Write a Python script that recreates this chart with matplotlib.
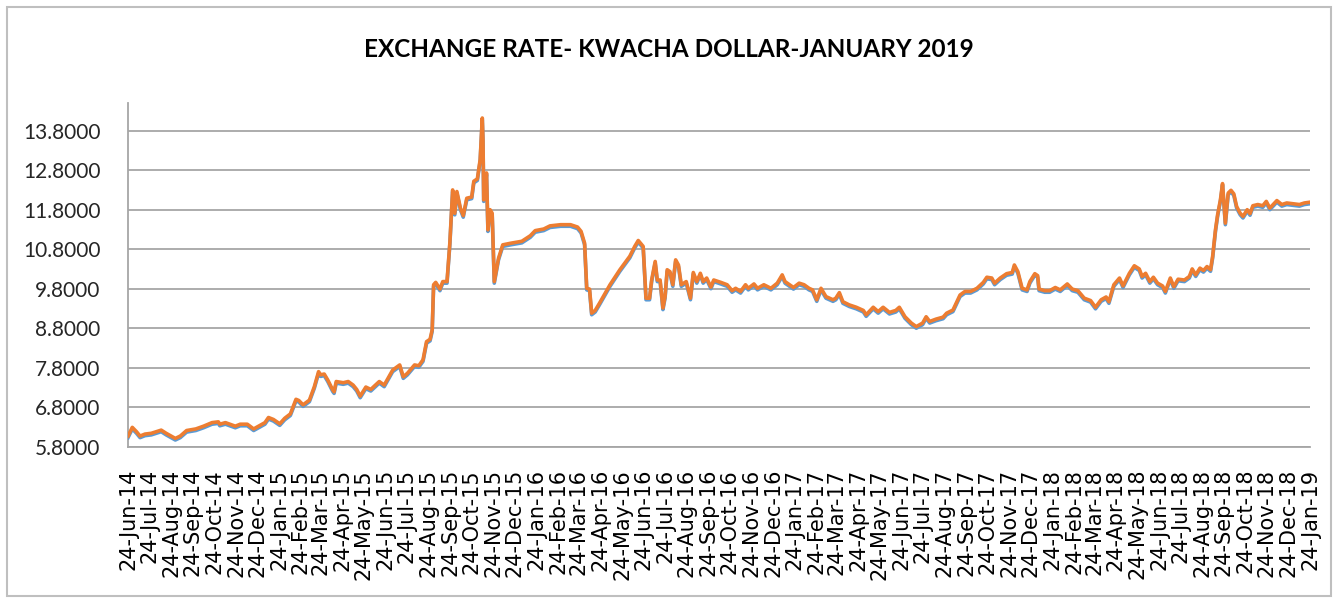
import matplotlib
matplotlib.use("Agg")
import matplotlib.pyplot as plt
import matplotlib.dates as mdates
import matplotlib.ticker as mticker
import pandas as pd
from matplotlib.patches import Rectangle

title = "EXCHANGE RATE- KWACHA DOLLAR-JANUARY 2019"

dates = [
    # 2014
    "2014-06-24", "2014-06-30", "2014-07-06", "2014-07-11", "2014-07-18", "2014-07-27",
    "2014-08-10", "2014-08-17", "2014-08-30", "2014-09-06", "2014-09-15", "2014-09-28",
    "2014-10-09", "2014-10-21", "2014-10-30", "2014-11-01", "2014-11-09", "2014-11-23",
    "2014-11-30", "2014-12-10", "2014-12-19", "2014-12-26",
    # 2015
    "2015-01-04", "2015-01-09", "2015-01-16", "2015-01-25", "2015-02-01", "2015-02-09",
    "2015-02-17", "2015-02-21", "2015-02-27", "2015-03-08", "2015-03-15", "2015-03-21",
    "2015-03-24", "2015-03-29", "2015-04-03", "2015-04-10", "2015-04-12", "2015-04-15",
    "2015-04-25", "2015-05-02", "2015-05-09", "2015-05-14", "2015-05-19", "2015-05-27",
    "2015-06-03", "2015-06-15", "2015-06-22", "2015-07-04", "2015-07-14", "2015-07-19",
    "2015-07-25", "2015-08-04", "2015-08-10", "2015-08-16", "2015-08-21", "2015-08-26",
    "2015-08-29", "2015-08-31", "2015-09-03", "2015-09-09", "2015-09-13", "2015-09-19",
    "2015-09-23", "2015-09-27", "2015-09-30", "2015-10-03", "2015-10-08", "2015-10-12",
    "2015-10-17", "2015-10-24", "2015-10-27", "2015-11-01", "2015-11-05", "2015-11-08",
    "2015-11-09", "2015-11-10", "2015-11-14", "2015-11-16", "2015-11-19", "2015-11-22",
    "2015-11-25", "2015-12-01", "2015-12-07", "2015-12-18",
    # 2016
    "2016-01-03", "2016-01-15", "2016-01-22", "2016-02-03", "2016-02-12", "2016-02-27",
    "2016-03-12", "2016-03-22", "2016-03-27", "2016-04-01", "2016-04-04", "2016-04-08",
    "2016-04-11", "2016-04-16", "2016-04-22", "2016-05-07", "2016-05-21", "2016-06-04",
    "2016-06-11", "2016-06-16", "2016-06-23", "2016-06-27", "2016-07-02", "2016-07-05",
    "2016-07-10", "2016-07-13", "2016-07-17", "2016-07-21", "2016-07-24", "2016-07-27",
    "2016-07-31", "2016-08-04", "2016-08-08", "2016-08-12", "2016-08-16", "2016-08-23",
    "2016-08-29", "2016-09-02", "2016-09-07", "2016-09-12", "2016-09-16", "2016-09-21",
    "2016-09-27", "2016-10-01", "2016-10-11", "2016-10-20", "2016-10-27", "2016-11-01",
    "2016-11-08", "2016-11-15", "2016-11-19", "2016-11-27", "2016-12-02", "2016-12-11",
    "2016-12-21", "2016-12-30",
    # 2017
    "2017-01-06", "2017-01-10", "2017-01-22", "2017-01-30", "2017-02-06", "2017-02-13",
    "2017-02-18", "2017-02-24", "2017-03-02", "2017-03-09", "2017-03-19", "2017-03-23",
    "2017-03-28", "2017-04-02", "2017-04-11", "2017-04-21", "2017-05-01", "2017-05-05",
    "2017-05-15", "2017-05-22", "2017-05-29", "2017-06-07", "2017-06-16", "2017-06-21",
    "2017-06-29", "2017-07-08", "2017-07-15", "2017-07-24", "2017-07-29", "2017-08-03",
    "2017-08-12", "2017-08-22", "2017-08-27", "2017-09-05", "2017-09-15", "2017-09-22",
    "2017-09-30", "2017-10-09", "2017-10-18", "2017-10-23", "2017-10-30", "2017-11-03",
    "2017-11-11", "2017-11-20", "2017-11-28", "2017-12-01", "2017-12-06", "2017-12-12",
    "2017-12-19", "2017-12-23", "2017-12-30",
    # 2018
    "2018-01-03", "2018-01-05", "2018-01-13", "2018-01-20", "2018-01-28", "2018-02-04",
    "2018-02-14", "2018-02-21", "2018-03-01", "2018-03-10", "2018-03-19", "2018-03-26",
    "2018-04-03", "2018-04-10", "2018-04-14", "2018-04-21", "2018-04-29", "2018-05-04",
    "2018-05-13", "2018-05-20", "2018-05-27", "2018-05-31", "2018-06-05", "2018-06-11",
    "2018-06-16", "2018-06-22", "2018-06-29", "2018-07-03", "2018-07-10", "2018-07-15",
    "2018-07-21", "2018-07-30", "2018-08-06", "2018-08-10", "2018-08-15", "2018-08-21",
    "2018-08-26", "2018-08-31", "2018-09-05", "2018-09-08", "2018-09-12", "2018-09-15",
    "2018-09-19", "2018-09-22", "2018-09-26", "2018-09-30", "2018-10-04", "2018-10-08",
    "2018-10-12", "2018-10-17", "2018-10-21", "2018-10-27", "2018-10-31", "2018-11-04",
    "2018-11-11", "2018-11-18", "2018-11-23", "2018-11-28", "2018-12-08", "2018-12-15",
    "2018-12-22", "2018-12-31",
    # 2019
    "2019-01-09", "2019-01-16", "2019-01-24",
]

sell_rate = [
    # 2014
    6.07, 6.29, 6.18, 6.07, 6.12, 6.14,
    6.22, 6.14, 6.01, 6.07, 6.21, 6.25,
    6.32, 6.41, 6.43, 6.37, 6.41, 6.32,
    6.37, 6.37, 6.25, 6.32,
    # 2015
    6.41, 6.54, 6.49, 6.38, 6.52, 6.63,
    7.00, 6.97, 6.86, 6.98, 7.32, 7.70,
    7.62, 7.64, 7.49, 7.24, 7.19, 7.45,
    7.42, 7.45, 7.36, 7.25, 7.08, 7.31,
    7.25, 7.45, 7.36, 7.74, 7.87, 7.57,
    7.66, 7.87, 7.85, 8.00, 8.46, 8.52,
    8.76, 9.90, 9.96, 9.79, 9.98, 9.98,
    10.95, 12.30, 11.71, 12.26, 11.84, 11.65,
    12.09, 12.12, 12.52, 12.58, 13.07, 14.12,
    13.57, 12.05, 12.73, 11.29, 11.80, 11.71,
    9.98, 10.57, 10.91, 10.95,
    # 2016
    11.00, 11.14, 11.27, 11.31, 11.39, 11.42,
    11.42, 11.36, 11.25, 10.95, 9.81, 9.79,
    9.18, 9.25, 9.43, 9.90, 10.28, 10.62,
    10.87, 11.02, 10.87, 9.56, 9.56, 10.02,
    10.49, 10.02, 10.02, 9.31, 9.60, 10.28,
    10.23, 9.90, 10.53, 10.40, 9.90, 9.98,
    9.56, 10.21, 9.98, 10.19, 9.98, 10.07,
    9.84, 10.02, 9.96, 9.90, 9.75, 9.81,
    9.73, 9.90, 9.81, 9.92, 9.81, 9.90,
    9.81, 9.94,
    # 2017
    10.15, 9.98, 9.83, 9.94, 9.90, 9.81,
    9.77, 9.52, 9.81, 9.60, 9.52, 9.56,
    9.70, 9.47, 9.39, 9.33, 9.25, 9.14,
    9.33, 9.22, 9.33, 9.20, 9.25, 9.33,
    9.09, 8.93, 8.84, 8.93, 9.09, 8.97,
    9.03, 9.08, 9.18, 9.26, 9.64, 9.73,
    9.73, 9.81, 9.96, 10.09, 10.07, 9.94,
    10.07, 10.18, 10.21, 10.40, 10.23, 9.81,
    9.77, 9.98, 10.18,
    # 2018
    10.13, 9.79, 9.75, 9.75, 9.83, 9.77,
    9.92, 9.79, 9.75, 9.56, 9.50, 9.33,
    9.52, 9.59, 9.47, 9.90, 10.07, 9.87,
    10.19, 10.38, 10.30, 10.11, 10.19, 9.98,
    10.09, 9.94, 9.87, 9.73, 10.07, 9.85,
    10.04, 10.02, 10.11, 10.30, 10.15, 10.32,
    10.26, 10.36, 10.28, 10.62, 11.29, 11.67,
    12.05, 12.46, 11.46, 12.22, 12.29, 12.20,
    11.88, 11.71, 11.63, 11.80, 11.70, 11.90,
    11.93, 11.90, 12.01, 11.84, 12.03, 11.93,
    11.97, 11.95,
    # 2019
    11.93, 11.97, 11.99,
]

buy_rate = [
    # 2014
    6.03, 6.25, 6.14, 6.03, 6.08, 6.10,
    6.18, 6.10, 5.97, 6.03, 6.17, 6.21,
    6.28, 6.37, 6.39, 6.33, 6.37, 6.28,
    6.33, 6.33, 6.21, 6.28,
    # 2015
    6.37, 6.50, 6.45, 6.34, 6.48, 6.59,
    6.96, 6.93, 6.82, 6.94, 7.28, 7.66,
    7.58, 7.60, 7.45, 7.20, 7.15, 7.41,
    7.38, 7.41, 7.32, 7.21, 7.04, 7.27,
    7.21, 7.41, 7.32, 7.70, 7.83, 7.53,
    7.62, 7.83, 7.81, 7.96, 8.42, 8.48,
    8.72, 9.86, 9.92, 9.75, 9.94, 9.94,
    10.91, 12.26, 11.67, 12.22, 11.80, 11.61,
    12.05, 12.08, 12.48, 12.54, 13.03, 14.08,
    13.53, 12.01, 12.69, 11.25, 11.76, 11.67,
    9.94, 10.53, 10.87, 10.91,
    # 2016
    10.96, 11.10, 11.23, 11.27, 11.35, 11.38,
    11.38, 11.32, 11.21, 10.91, 9.77, 9.75,
    9.14, 9.21, 9.39, 9.86, 10.24, 10.58,
    10.83, 10.98, 10.83, 9.52, 9.52, 9.98,
    10.45, 9.98, 9.98, 9.27, 9.56, 10.24,
    10.19, 9.86, 10.49, 10.36, 9.86, 9.94,
    9.52, 10.17, 9.94, 10.15, 9.94, 10.03,
    9.80, 9.98, 9.92, 9.86, 9.71, 9.77,
    9.69, 9.86, 9.77, 9.88, 9.77, 9.86,
    9.77, 9.90,
    # 2017
    10.11, 9.94, 9.79, 9.90, 9.86, 9.77,
    9.73, 9.48, 9.77, 9.56, 9.48, 9.52,
    9.66, 9.43, 9.35, 9.29, 9.21, 9.10,
    9.29, 9.18, 9.29, 9.16, 9.21, 9.29,
    9.05, 8.89, 8.80, 8.89, 9.05, 8.93,
    8.99, 9.04, 9.14, 9.22, 9.60, 9.69,
    9.69, 9.77, 9.92, 10.05, 10.03, 9.90,
    10.03, 10.14, 10.17, 10.36, 10.19, 9.77,
    9.73, 9.94, 10.14,
    # 2018
    10.09, 9.75, 9.71, 9.71, 9.79, 9.73,
    9.88, 9.75, 9.71, 9.52, 9.46, 9.29,
    9.48, 9.55, 9.43, 9.86, 10.03, 9.83,
    10.15, 10.34, 10.26, 10.07, 10.15, 9.94,
    10.05, 9.90, 9.83, 9.69, 10.03, 9.81,
    10.00, 9.98, 10.07, 10.26, 10.11, 10.28,
    10.22, 10.32, 10.24, 10.58, 11.25, 11.63,
    12.01, 12.42, 11.42, 12.18, 12.25, 12.16,
    11.84, 11.67, 11.59, 11.76, 11.66, 11.86,
    11.89, 11.86, 11.97, 11.80, 11.99, 11.89,
    11.93, 11.91,
    # 2019
    11.89, 11.93, 11.95,
]

y_ticks = [5.8, 6.8, 7.8, 8.8, 9.8, 10.8, 11.8, 12.8, 13.8]
x_start = "2014-06-24"
x_end = "2019-01-24"

buy_color = "#5B9BD5"
sell_color = "#ED7D31"
grid_color = "#a6a6a6"

d = pd.to_datetime(dates)
tick_dates = pd.date_range(x_start, periods=56, freq=pd.DateOffset(months=1))

fig = plt.figure(figsize=(13.38, 6.01), dpi=100)
ax = fig.add_axes([0.0957, 0.2567, 0.8834, 0.5719])

ax.plot(d, buy_rate, color=buy_color, lw=2.6, solid_joinstyle="round", zorder=3)
ax.plot(d, sell_rate, color=sell_color, lw=2.6, solid_joinstyle="round", zorder=4)

ax.set_xlim(pd.Timestamp(x_start), pd.Timestamp(x_end))
ax.set_ylim(5.8, 14.5)
ax.set_yticks(y_ticks)
ax.yaxis.set_major_formatter(mticker.FormatStrFormatter("%.4f"))
ax.set_xticks(tick_dates)
ax.xaxis.set_major_formatter(mdates.DateFormatter("%d-%b-%y"))

ax.yaxis.grid(True, color=grid_color, lw=1.3)
ax.set_axisbelow(True)
for s in ["top", "right"]:
    ax.spines[s].set_visible(False)
for s in ["left", "bottom"]:
    ax.spines[s].set_color(grid_color)
    ax.spines[s].set_linewidth(1.3)

ax.tick_params(axis="x", length=0, pad=16, labelrotation=90, labelsize=15, colors="black")
ax.tick_params(axis="y", length=0, pad=20, labelsize=15, colors="#262626")
for lab in ax.get_yticklabels():
    lab.set_fontfamily("Lato")
for lab in ax.get_xticklabels():
    lab.set_fontfamily("DejaVu Sans")

fig.text(0.5, 0.918, title, ha="center", va="center", fontsize=17.5,
         fontweight="bold", family=["Lato", "DejaVu Sans"])

fig.patches.append(Rectangle((0.0052, 0.008), 0.9896, 0.980, transform=fig.transFigure,
                             fill=False, edgecolor="#bfbfbf", lw=1.5))

fig.savefig("out.png", dpi=100)
